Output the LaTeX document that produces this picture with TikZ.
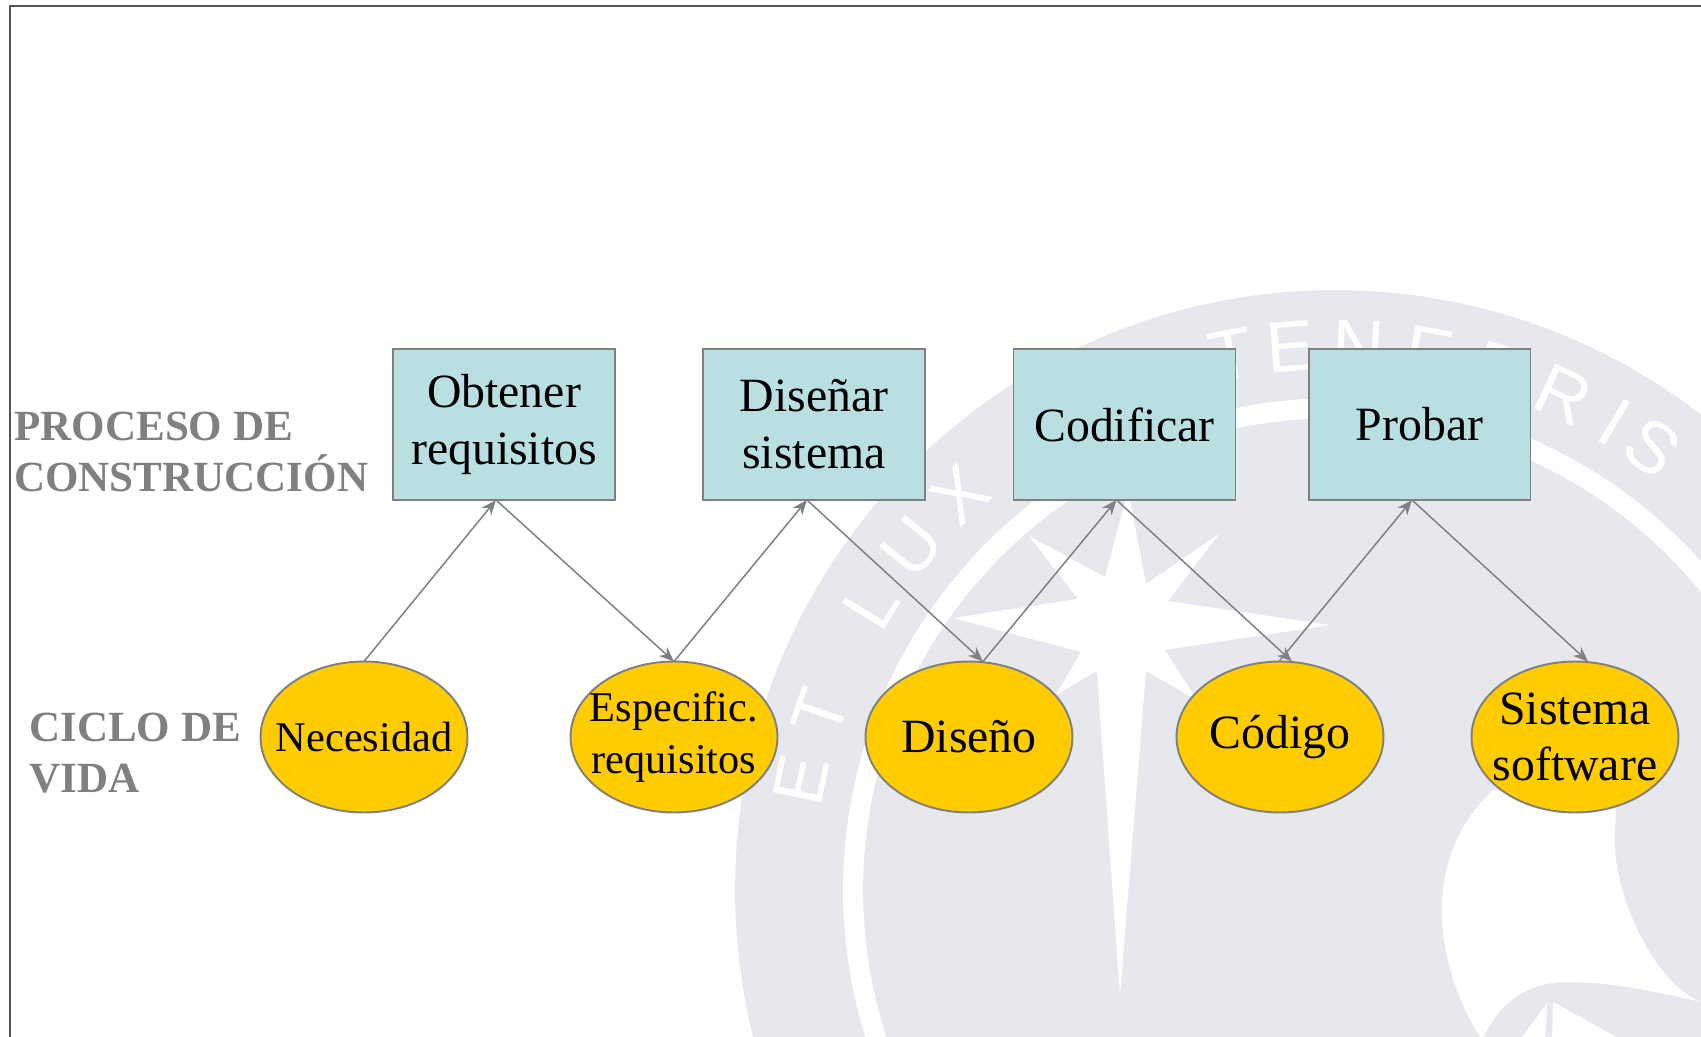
\documentclass[tikz,border=0pt]{standalone}
\usepackage{fontspec}
\usepackage{tikz}
\usetikzlibrary{shapes.geometric,arrows.meta}
\setmainfont{Liberation Serif}
\newfontfamily\lemafont{Liberation Sans}
\definecolor{turquesa}{RGB}{185, 223, 226}
\definecolor{ambar}{RGB}{255, 204, 0}
\definecolor{plomo}{RGB}{128, 128, 128}
\definecolor{pizarra}{RGB}{80, 85, 88}
\definecolor{sello}{RGB}{230, 232, 238}
\tikzset{
    proceso/.style={draw=plomo, fill=turquesa, line width=1.1pt, inner sep=0pt, outer sep=0pt,
        minimum width=4.44cm, minimum height=3.02cm, align=center,
        font=\fontsize{27.2}{32.3}\selectfont},
    ciclo/.style={ellipse, draw=plomo, fill=ambar, line width=1.1pt, inner sep=-1cm, outer sep=0pt,
        minimum width=4.14cm, minimum height=3.02cm, align=center,
        font=\fontsize{27.2}{32.3}\selectfont},
    ciclochico/.style={ciclo, font=\fontsize{24.1}{29.5}\selectfont},
    rotulo/.style={anchor=west, inner sep=0pt, align=left, text=plomo,
        font=\fontsize{24.5}{28.9}\selectfont\bfseries},
    lema/.style={text=white, inner sep=0pt, font=\lemafont\fontsize{41}{41}\selectfont},
    flecha/.style={draw=plomo, line width=0.85pt, -{Stealth[length=0.3cm,width=0.24cm]}}
}
\begin{document}
\begin{tikzpicture}[x=0.02cm, y=-0.02cm]
            \useasboundingbox (0,0) rectangle (1701,1037);
            \clip (0,0) rectangle (1701,1037);
            \fill[white]                  (0,0) rectangle (1701,1037);
            \fill[sello]                  (1335,890) circle (12cm);
            \draw[white, line width=0.4cm](1335,890) circle (9.64cm);
            \fill[white] (1128,490) -- (1146,584) -- (1219,534) -- (1168,601) -- (1330,625) -- (1165,650)
                      -- (1197,700) -- (1146,671) -- (1120,995) -- (1097,671) -- (1056,695) -- (1081,652)
                      -- (953,618)  -- (1078,599) -- (1029,536) -- (1105,577) -- cycle;
            \fill[white] (1493,790) .. controls (1450,830) and (1440,880) .. (1442,920)
                      .. controls (1445,970) and (1465,1015) .. (1482,1040)
                      .. controls (1500,1000) and (1530,982) .. (1567,982)
                      .. controls (1610,982) and (1660,992) .. (1701,1002)
                      .. controls (1660,985) and (1625,920) .. (1616,860)
                      .. controls (1614,840) and (1615,825) .. (1617,800) -- cycle;
            \fill[white] (1547,1003) -- (1520,1040) -- (1545,1040) -- cycle;
            \fill[white] (1553,1002) -- (1552,1040) -- (1622,1040) -- cycle;
            \foreach \letra/\ang in {E/168.3, T/161, L/148.4, U/141, X/133.5, T/101, E/94.7, N/87.5,
                                     E/80, B/72.5, R/65.2, I/59.1, S/54.3}
                \node[lema, rotate=\ang-90] (lema\ang) at ([shift={(1335,890)}]\ang:10.9cm) {\letra};
            \draw[pizarra, line width=1.1pt] (10,1037) -- (10,6) -- (1701,6);

            \node[rotulo] (construccion) at (14,452) {PROCESO DE\\CONSTRUCCIÓN};
            \node[rotulo] (vida)         at (29,753) {CICLO DE\\VIDA};

            \node[proceso] (obtener)  at (504,424.5)  {Obtener\\requisitos};
            \node[proceso] (disenar)  at (814,424.5)  {Diseñar\\sistema};
            \node[proceso] (codificar)at (1124.5,424.5){Codificar};
            \node[proceso] (probar)   at (1419.5,424.5){Probar};

            \node[ciclochico] (necesidad) at (364,737)  {Necesidad};
            \node[ciclochico] (especific) at (674,737)  {Especific.\\requisitos};
            \node[ciclo]      (diseno)    at (969,737)  {Diseño};
            \node[ciclo]      (codigo)    at (1280,737) {Código};
            \node[ciclo]      (sistema)   at (1575,737) {Sistema\\software};

            \draw[flecha] (necesidad.north)             -- ([xshift=-0.16cm]obtener.south);
            \draw[flecha] ([xshift=-0.16cm]obtener.south)   -- (especific.north);
            \draw[flecha] (especific.north)             -- ([xshift=-0.14cm]disenar.south);
            \draw[flecha] ([xshift=-0.14cm]disenar.south)   -- ([xshift=0.28cm]diseno.north);
            \draw[flecha] ([xshift=0.28cm]diseno.north) -- ([xshift=-0.16cm]codificar.south);
            \draw[flecha] ([xshift=-0.16cm]codificar.south) -- ([xshift=0.24cm]codigo.north);
            \draw[flecha] ([xshift=-0.02cm]codigo.north)-- ([xshift=-0.15cm]probar.south);
            \draw[flecha] ([xshift=-0.15cm]probar.south)    -- ([xshift=0.26cm]sistema.north);
        \end{tikzpicture}
\end{document}
